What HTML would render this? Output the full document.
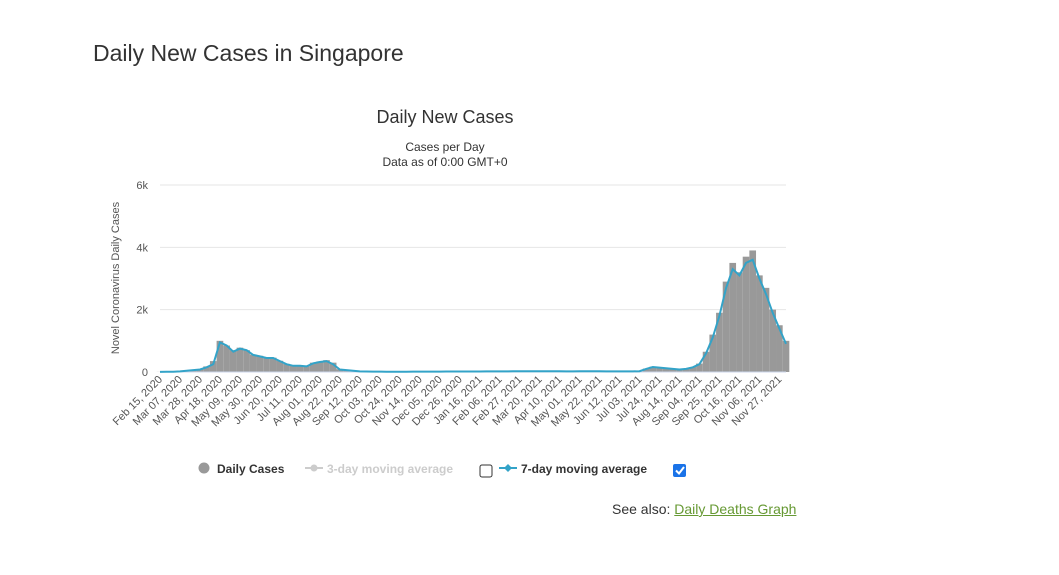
<!DOCTYPE html>
<html><head><meta charset="utf-8"><style>
body{margin:0;width:1059px;height:575px;background:#fff;font-family:"Liberation Sans",sans-serif;overflow:hidden;position:relative}
h1{position:absolute;left:93px;top:40px;margin:0;font-size:23px;font-weight:normal;color:#333}
.also{position:absolute;left:612px;top:501px;font-size:14px;color:#333}
.also a{color:#669933;text-decoration:underline}
</style></head><body>
<h1>Daily New Cases in Singapore</h1>
<svg id="chart" width="1059" height="575" style="position:absolute;left:0;top:0" font-family="Liberation Sans, sans-serif"></svg>
<div class="also">See also: <a href="#">Daily Deaths Graph</a></div>
<script>
const cases=[3,5,10,20,40,60,90,180,350,1000,850,700,780,700,560,520,470,460,360,260,210,210,190,300,340,380,300,90,60,40,20,15,12,12,10,10,10,10,12,12,12,12,12,15,15,15,15,15,15,20,20,20,20,25,25,25,25,25,25,25,25,20,20,25,25,25,25,20,20,20,20,20,25,110,170,150,120,100,90,110,160,270,650,1200,1900,2900,3500,3200,3700,3900,3100,2700,2000,1500,1000];
const avg7=[3,5,10,20,40,60,80,150,250,950,850,650,750,700,550,500,450,450,350,250,200,200,180,280,320,350,250,80,60,40,20,15,12,12,10,10,10,10,12,12,12,12,12,15,15,15,15,15,15,20,20,20,20,25,25,25,25,25,25,25,25,20,20,25,25,25,25,20,20,20,20,20,25,100,160,140,120,100,80,100,150,250,600,1100,1800,2700,3300,3100,3500,3600,3000,2500,1900,1400,900];
const yTicks=[0,2000,4000,6000];
const yTickLabels=["0","2k","4k","6k"];
const xLabels=["Feb 15, 2020","Mar 07, 2020","Mar 28, 2020","Apr 18, 2020","May 09, 2020","May 30, 2020","Jun 20, 2020","Jul 11, 2020","Aug 01, 2020","Aug 22, 2020","Sep 12, 2020","Oct 03, 2020","Oct 24, 2020","Nov 14, 2020","Dec 05, 2020","Dec 26, 2020","Jan 16, 2021","Feb 06, 2021","Feb 27, 2021","Mar 20, 2021","Apr 10, 2021","May 01, 2021","May 22, 2021","Jun 12, 2021","Jul 03, 2021","Jul 24, 2021","Aug 14, 2021","Sep 04, 2021","Sep 25, 2021","Oct 16, 2021","Nov 06, 2021","Nov 27, 2021"];
const NS="http://www.w3.org/2000/svg",svg=document.getElementById('chart');
const X0=160,X1=786,Y0=372,Y1=185;
const n=cases.length;
const xs=i=>X0+(X1-X0)*i/(n-1);
const ys=v=>Y0-(Y0-Y1)*v/6000;
function mk(t,a,p){const e=document.createElementNS(NS,t);for(const k in a)e.setAttribute(k,a[k]);(p||svg).appendChild(e);return e;}
function tx(x,y,s,a){const e=mk('text',Object.assign({x:x,y:y},a));e.textContent=s;return e;}
let e;
e=tx(445,123,"Daily New Cases",{"text-anchor":"middle","font-size":18,fill:"#333"});

e=tx(445,151,"Cases per Day",{"text-anchor":"middle","font-size":12,fill:"#333"});

e=tx(445,166,"Data as of 0:00 GMT+0",{"text-anchor":"middle","font-size":12,fill:"#333"});

e=tx(119,278,"Novel Coronavirus Daily Cases",{"text-anchor":"middle","font-size":11,fill:"#555",transform:"rotate(-90 119 278)"});

yTicks.forEach((v,i)=>{
 if(v>0){const g=mk('line',{x1:X0,x2:X1,y1:ys(v),y2:ys(v),stroke:"#e6e6e6"});}
 const t=tx(148,ys(v)+4,yTickLabels[i],{"text-anchor":"end","font-size":11,fill:"#555"});
 
});
const bw=(X1-X0)/(n-1);
cases.forEach((v,i)=>{const r=mk('rect',{x:xs(i)-bw/2,y:ys(v),width:bw,height:Y0-ys(v),fill:"#999"});
 });
const ax=mk('line',{x1:X0,x2:X1,y1:Y0,y2:Y0,stroke:"#ccd6eb"});

const ln=mk('path',{d:avg7.map((v,i)=>(i?'L':'M')+xs(i).toFixed(1)+' '+ys(v).toFixed(1)).join(''),fill:"none",stroke:"#33a3c8","stroke-width":2});

const step=21/7*(X1-X0)/(n-1);
xLabels.forEach((s,i)=>{const x=X0+step*i;
 const t=tx(x+3,380,s,{"text-anchor":"end","font-size":11,fill:"#555",transform:`rotate(-45 ${x+3} 380)`});
 });
// legend
let g=mk('g',{});
mk('circle',{cx:204,cy:468,r:5.5,fill:"#999"},g);tx(217,473,"Daily Cases",{"font-size":12,"font-weight":"bold",fill:"#333"}).remove();
g.appendChild(tx(217,473,"Daily Cases",{"font-size":12,"font-weight":"bold",fill:"#333"}));
g=mk('g',{});
mk('line',{x1:305,x2:323,y1:468,y2:468,stroke:"#ccc","stroke-width":2},g);mk('circle',{cx:314,cy:468,r:3.5,fill:"#ccc"},g);
g.appendChild(tx(327,473,"3-day moving average",{"font-size":12,"font-weight":"bold",fill:"#ccc"}));
e=mk('rect',{x:480,y:465,width:12,height:12,rx:2,fill:"#fff",stroke:"#333"});

g=mk('g',{});
mk('line',{x1:499,x2:517,y1:468,y2:468,stroke:"#33a3c8","stroke-width":2},g);mk('path',{d:"M508 464L512 468L508 472L504 468Z",fill:"#33a3c8"},g);
g.appendChild(tx(521,473,"7-day moving average",{"font-size":12,"font-weight":"bold",fill:"#333"}));
e=mk('rect',{x:673,y:464,width:13,height:13,rx:2,fill:"#1a73e8"});

mk('path',{d:"M676 470.5L679 473.5L684 467",fill:"none",stroke:"#fff","stroke-width":2});
</script>
</body></html>
